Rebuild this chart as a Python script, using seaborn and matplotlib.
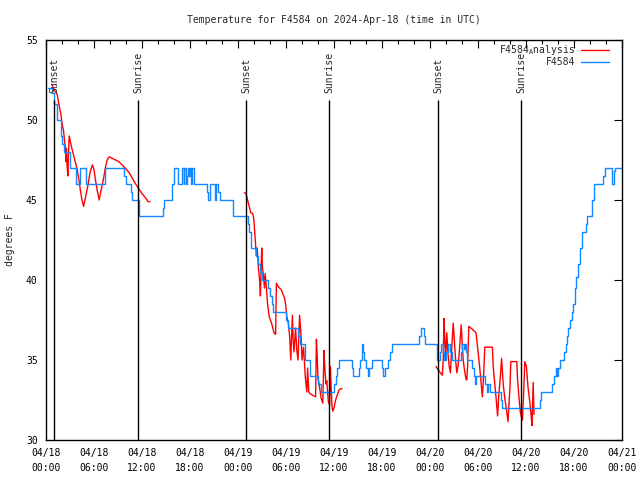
import numpy as np
import pandas as pd
import matplotlib
matplotlib.use('Agg')
import matplotlib.pyplot as plt
from matplotlib.lines import Line2D
import seaborn as sns

# ---------------------------------------------------------
# DATA (hours since 2024-04-18 00:00 UTC, degrees F)
# ---------------------------------------------------------
# station observations as (hour, temp) step points
obs_day1 = [(0.3, 52), (0.75, 51.7), (1.0, 51), (1.4, 50), (1.85, 49), (2.05, 48.5), (2.2, 48),
            (2.95, 47), (3.75, 46), (4.25, 47), (4.95, 46), (7.4, 47), (9.8, 46.5), (10.0, 46),
            (10.6, 45.5), (10.75, 45), (11.6, 44), (14.6, 44.5), (14.75, 45), (15.75, 46),
            (15.95, 47), (16.45, 46), (17.05, 47), (17.2, 46), (17.3, 47), (17.45, 46),
            (17.6, 46.5), (17.8, 47), (17.9, 46.5), (18.0, 47), (18.15, 46), (18.3, 47),
            (18.45, 46), (20.15, 45.5), (20.3, 45), (20.45, 46), (21.1, 45), (21.3, 46),
            (21.5, 45.5), (21.7, 45), (23.4, 44)]
obs_day2 = [(25.2, 43.5), (25.4, 43), (25.6, 42), (26.3, 41.5), (26.5, 41), (26.75, 40.5),
            (26.95, 40), (27.8, 39.5), (28.0, 39), (28.2, 38.5), (28.4, 38), (30.0, 37.5),
            (30.2, 37), (31.5, 36.5), (31.7, 36), (32.4, 35), (33.0, 34), (34.0, 33.5),
            (34.4, 33), (36.0, 33.5), (36.2, 34), (36.4, 34.5), (36.6, 35), (38.3, 34.5),
            (38.4, 34), (39.1, 34.5), (39.3, 35), (39.5, 36), (39.65, 35.5), (39.8, 35),
            (40.0, 34.5), (40.2, 34), (40.4, 34.5), (40.7, 35), (42.0, 34.5), (42.1, 34),
            (42.4, 34.5), (42.7, 35), (42.95, 35.5), (43.3, 36), (46.6, 36.5), (46.85, 37),
            (47.2, 36.5), (47.4, 36)]
obs_day3 = [(48.85, 35), (49.2, 35.5), (49.4, 36), (49.6, 35.5), (49.75, 35), (50.0, 35.5),
            (50.2, 36), (50.45, 35.5), (50.75, 35), (51.85, 35.5), (52.0, 36), (52.2, 35.7),
            (52.35, 36), (52.5, 35.5), (52.65, 35), (53.25, 34.5), (53.45, 34), (53.6, 33.5),
            (53.75, 34), (54.9, 33.5), (55.1, 33), (55.3, 33.5), (55.45, 33), (56.9, 32.5),
            (57.0, 32), (61.7, 32.5), (61.9, 33), (63.25, 33.5), (63.5, 34), (63.7, 34.5),
            (63.85, 34), (64.0, 34.5), (64.25, 35), (64.75, 35.5), (64.95, 36), (65.1, 36.5),
            (65.3, 37), (65.5, 37.5), (65.7, 38), (65.9, 38.5), (66.1, 39.5), (66.3, 40.2),
            (66.5, 41), (66.75, 42), (66.95, 43), (67.5, 43.5), (67.6, 44), (68.2, 44.5),
            (68.3, 45), (68.45, 46), (69.6, 46.5), (69.85, 47), (70.75, 46), (70.95, 46.8),
            (71.15, 47), (72.0, 47)]

# analysis series, three separate runs
ana_run1 = [(0.75, 52.2), (1.0, 51.9), (1.4, 51.6), (1.6, 51.0), (1.85, 50.4), (2.0, 49.8),
            (2.2, 49.3), (2.35, 48.5), (2.45, 48.3), (2.5, 47.4), (2.55, 48.2), (2.65, 47.0),
            (2.75, 46.5), (2.8, 47.8), (2.9, 49.0), (3.1, 48.5), (3.3, 48.1), (3.5, 47.7),
            (3.7, 47.3), (3.9, 46.9), (4.1, 46.3), (4.3, 45.6), (4.5, 45.0), (4.7, 44.6),
            (4.95, 45.2), (5.2, 45.8), (5.5, 46.7), (5.8, 47.2), (6.0, 46.9), (6.2, 46.2),
            (6.4, 45.6), (6.65, 45.0), (6.8, 45.4), (7.05, 46.0), (7.25, 46.5), (7.45, 47.1),
            (7.65, 47.5), (7.9, 47.7), (8.3, 47.6), (8.7, 47.5), (9.1, 47.4), (9.5, 47.2),
            (9.9, 47.0), (10.4, 46.7), (10.8, 46.35), (11.2, 46.0), (11.6, 45.7), (12.0, 45.4),
            (12.5, 45.1), (12.75, 44.9), (13.0, 44.9)]
ana_run2 = [(24.8, 45.45), (25.0, 45.4), (25.2, 45.0), (25.4, 44.6), (25.6, 44.2), (25.85, 44.15),
            (26.0, 43.7), (26.1, 42.9), (26.3, 41.5), (26.4, 42.0), (26.55, 40.8), (26.7, 40.0),
            (26.8, 39.0), (26.9, 41.0), (26.97, 42.0), (27.05, 40.8), (27.2, 40.2), (27.3, 39.5),
            (27.4, 40.4), (27.55, 39.5), (27.7, 38.5), (27.9, 37.7), (28.2, 37.3), (28.5, 36.7),
            (28.7, 36.6), (28.8, 39.8), (29.0, 39.6), (29.4, 39.4), (29.8, 38.9), (29.95, 38.5),
            (30.1, 37.7), (30.3, 37.3), (30.45, 36.5), (30.6, 35.0), (30.7, 36.5), (30.8, 37.8),
            (30.9, 36.2), (31.0, 35.5), (31.2, 37.0), (31.35, 35.6), (31.5, 35.0), (31.7, 37.8),
            (31.9, 36.4), (32.0, 35.0), (32.2, 35.8), (32.4, 34.0), (32.6, 33.0), (32.7, 34.5),
            (32.85, 33.0), (33.0, 32.9), (33.3, 32.8), (33.7, 32.7), (33.8, 36.3), (33.9, 35.2),
            (34.0, 33.8), (34.1, 33.6), (34.4, 32.6), (34.6, 32.3), (34.75, 35.6), (34.85, 34.5),
            (35.0, 33.5), (35.1, 33.7), (35.2, 33.0), (35.3, 32.4), (35.45, 32.2), (35.55, 34.6),
            (35.65, 33.2), (35.75, 32.1), (35.85, 31.8), (36.0, 32.0), (36.2, 32.5), (36.4, 32.8),
            (36.6, 33.1), (36.8, 33.2), (37.0, 33.2)]
ana_run3 = [(48.75, 34.6), (49.0, 34.4), (49.3, 34.2), (49.55, 34.05), (49.65, 35.0), (49.75, 37.6),
            (49.85, 36.3), (49.95, 35.0), (50.1, 36.7), (50.25, 35.4), (50.4, 34.6), (50.55, 34.2),
            (50.7, 35.6), (50.9, 37.3), (51.05, 36.2), (51.2, 35.0), (51.35, 34.2), (51.5, 34.6),
            (51.65, 35.4), (51.9, 37.2), (52.05, 35.8), (52.15, 35.0), (52.3, 34.4), (52.5, 33.8),
            (52.6, 33.75), (52.7, 34.6), (52.85, 37.1), (53.35, 36.9), (53.75, 36.7), (53.95, 35.8),
            (54.2, 34.6), (54.4, 33.5), (54.55, 32.7), (54.7, 34.0), (54.85, 35.8), (55.8, 35.8),
            (55.9, 34.6), (56.1, 33.5), (56.3, 32.4), (56.45, 31.5), (56.6, 32.8), (56.8, 34.0),
            (56.95, 35.1), (57.15, 33.5), (57.35, 32.6), (57.55, 31.9), (57.75, 31.15), (57.9, 32.5),
            (58.0, 33.3), (58.1, 34.9), (58.85, 34.9), (58.95, 33.75), (59.15, 32.5), (59.3, 31.7),
            (59.55, 31.25), (59.7, 32.9), (59.85, 34.9), (60.05, 34.6), (60.25, 33.3), (60.45, 32.5),
            (60.65, 31.5), (60.75, 30.9), (60.9, 33.6), (61.0, 31.6)]

sun_hours = [1.05, 11.55, 25.0, 35.4, 49.05, 59.4]
sun_labels = ['Sunset', 'Sunrise', 'Sunset', 'Sunrise', 'Sunset', 'Sunrise']

tick_hours = list(range(0, 73, 6))
tick_labels = ['04/18\n00:00', '04/18\n06:00', '04/18\n12:00', '04/18\n18:00',
               '04/19\n00:00', '04/19\n06:00', '04/19\n12:00', '04/19\n18:00',
               '04/20\n00:00', '04/20\n06:00', '04/20\n12:00', '04/20\n18:00',
               '04/21\n00:00']

series_names = [r'F4584$_\mathregular{A}$nalysis', 'F4584']

obs_df = pd.DataFrame(obs_day1 + obs_day2 + obs_day3, columns=['hour', 'temp'])
ana_df = pd.concat([pd.DataFrame(run, columns=['hour', 'temp']).assign(seg=i)
                    for i, run in enumerate([ana_run1, ana_run2, ana_run3])],
                   ignore_index=True)

# ---------------------------------------------------------
# PLOT
# ---------------------------------------------------------
sns.set_style('white')
plt.rcParams['font.family'] = ['DejaVu Sans Mono']
plt.rcParams['font.size'] = 7

RED = '#ff0000'
BLUE = '#1188ff'

fig = plt.figure(figsize=(6.4, 4.8), dpi=100)
ax = fig.add_axes([46 / 640, 1 - 440 / 480, 576 / 640, 400 / 480])

sns.lineplot(data=ana_df, x='hour', y='temp', units='seg', estimator=None,
             color=RED, linewidth=1.0, legend=False, ax=ax)
sns.lineplot(data=obs_df, x='hour', y='temp', estimator=None, drawstyle='steps-post',
             color=BLUE, linewidth=1.0, legend=False, ax=ax)

ax.vlines(sun_hours, 30, 51.25, color='black', linewidth=1.0)
for h, lab in zip(sun_hours, sun_labels):
    ax.text(h, 51.7, lab, rotation=90, ha='center', va='bottom', fontsize=7)

ax.set_xlim(0, 72)
ax.set_ylim(30, 55)
ax.set_xticks(tick_hours)
ax.set_xticklabels(tick_labels, linespacing=1.6)
ax.set_xticks(range(0, 73, 2), minor=True)
ax.set_yticks(range(30, 56, 5))
ax.tick_params(which='both', direction='in', top=True, right=True, colors='black',
               labelsize=7)
ax.tick_params(which='major', length=6, width=0.8, pad=6)
ax.tick_params(which='minor', length=3, width=0.8)
for s in ax.spines.values():
    s.set_color('black')
    s.set_linewidth(1.0)

ax.set_xlabel('')
ax.set_ylabel('degrees F', fontsize=7, labelpad=8)
fig.text(334 / 640, 1 - 20 / 480, 'Temperature for F4584 on 2024-Apr-18 (time in UTC)',
         ha='center', va='center', fontsize=7)

# gnuplot-style key: right-aligned labels, sample line on the right
for name, col, ky in zip(series_names, [RED, BLUE], [0.975, 0.945]):
    ax.text(0.918, ky, name, transform=ax.transAxes, ha='right', va='center', fontsize=7)
    ax.add_line(Line2D([0.929, 0.977], [ky, ky], transform=ax.transAxes,
                       color=col, linewidth=1.0))

fig.savefig('out.png', dpi=100)
